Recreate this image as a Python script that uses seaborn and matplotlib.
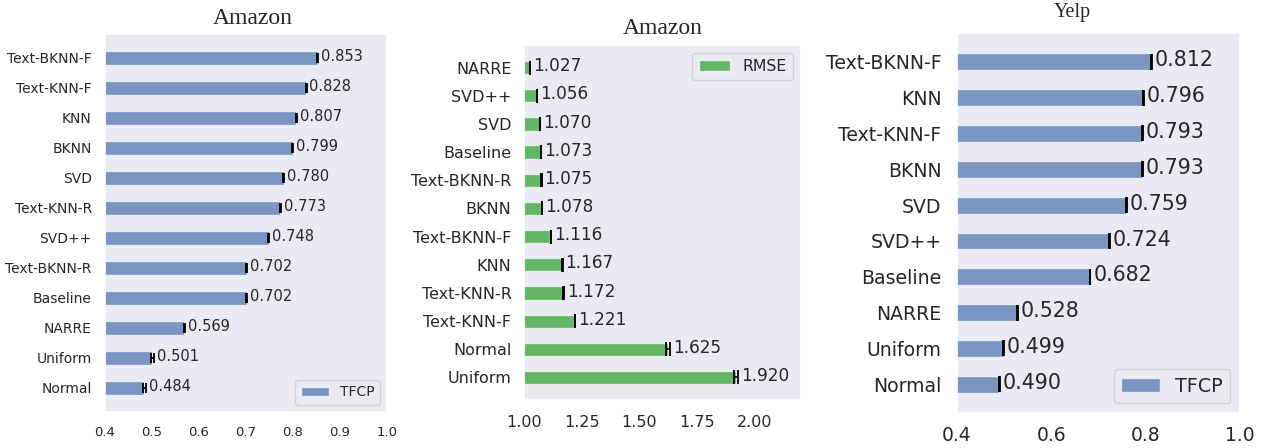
import matplotlib
matplotlib.use("Agg")
import matplotlib.pyplot as plt
import seaborn as sns

# Amazon TFCP
amz_tfcp_models = ["Text-BKNN-F", "Text-KNN-F", "KNN", "BKNN", "SVD", "Text-KNN-R",
                   "SVD++", "Text-BKNN-R", "Baseline", "NARRE", "Uniform", "Normal"]
amz_tfcp_vals = [0.853, 0.828, 0.807, 0.799, 0.780, 0.773, 0.748, 0.702, 0.702, 0.569, 0.501, 0.484]
amz_tfcp_err = [0.001, 0.001, 0.001, 0.001, 0.001, 0.001, 0.001, 0.001, 0.001, 0.001, 0.003, 0.003]

# Amazon RMSE
amz_rmse_models = ["NARRE", "SVD++", "SVD", "Baseline", "Text-BKNN-R", "BKNN", "Text-BKNN-F",
                   "KNN", "Text-KNN-R", "Text-KNN-F", "Normal", "Uniform"]
amz_rmse_vals = [1.027, 1.056, 1.070, 1.073, 1.075, 1.078, 1.116, 1.167, 1.172, 1.221, 1.625, 1.920]
amz_rmse_err = [0.001, 0.001, 0.001, 0.001, 0.001, 0.001, 0.001, 0.001, 0.001, 0.001, 0.008, 0.009]

# Yelp TFCP
yelp_models = ["Text-BKNN-F", "KNN", "Text-KNN-F", "BKNN", "SVD", "SVD++",
               "Baseline", "NARRE", "Uniform", "Normal"]
yelp_vals = [0.812, 0.796, 0.793, 0.793, 0.759, 0.724, 0.682, 0.528, 0.499, 0.490]
yelp_err = [0.001, 0.001, 0.001, 0.001, 0.001, 0.001, 0.001, 0.001, 0.001, 0.001]

sns.set_theme(style="dark")
plt.rcParams['font.family'] = ['DejaVu Sans']

fig = plt.figure(figsize=(12.65, 4.48), dpi=100)


def panel(rect, models, vals, errs, color, label, xlim, xticks, fs, pads, legend_loc, capsize):
    ax = fig.add_axes(rect)
    sns.barplot(x=vals, y=models, orient="h", color=color, saturation=1, alpha=0.7,
                width=0.47, errorbar=None, label=label, ax=ax)
    pos = list(range(len(models)))
    ax.errorbar(vals, pos, xerr=errs, fmt="none", ecolor="black", elinewidth=1.3,
                capsize=capsize, capthick=1.3)
    # value labels next to bars
    for i, (v, e) in enumerate(zip(vals, errs)):
        ax.annotate(f"{v:.3f}", (v + e, i), xytext=(2, 1), textcoords="offset points",
                    va="center", ha="left", fontsize=fs[1], color="#262626")
    ax.set_xlim(*xlim)
    ax.set_ylim(len(models) - 1 + 0.8, -0.8)
    ax.set_xticks(xticks)
    ax.set_xlabel("")
    ax.set_ylabel("")
    ax.tick_params(axis="y", labelsize=fs[0], pad=pads[0])
    ax.tick_params(axis="x", labelsize=fs[2], pad=pads[1])
    ax.legend(loc=legend_loc, fontsize=fs[3])
    return ax


panel([0.0830, 0.0804, 0.2229, 0.8438], amz_tfcp_models, amz_tfcp_vals, amz_tfcp_err,
      "#4C72B0", "TFCP", (0.4, 1.0), [0.4, 0.5, 0.6, 0.7, 0.8, 0.9, 1.0],
      (10, 10.5, 9.5, 10), (3.5, 4), "lower right", 3.6)
ax2 = panel([0.4142, 0.1071, 0.2190, 0.7924], amz_rmse_models, amz_rmse_vals, amz_rmse_err,
            "#2ca02c", "RMSE", (1.0, 2.2), [1.0, 1.25, 1.5, 1.75, 2.0],
            (11.5, 12.2, 11.5, 11.3), (3, 4.5), "upper right", 5)
panel([0.7565, 0.0781, 0.2237, 0.8480], yelp_models, yelp_vals, yelp_err,
      "#4C72B0", "TFCP", (0.4, 1.0), [0.4, 0.6, 0.8, 1.0],
      (13.6, 14.8, 13.5, 13.8), (5, 3.5), "lower right", 5.5)

ax2.xaxis.set_major_formatter(matplotlib.ticker.FormatStrFormatter("%.2f"))

# titles
fig.text(253 / 1265, 1 - 18 / 448, "Amazon", ha="center", va="center",
         family="Liberation Serif", fontsize=17)
fig.text(663 / 1265, 1 - 28 / 448, "Amazon", ha="center", va="center",
         family="Liberation Serif", fontsize=17)
fig.text(1072 / 1265, 1 - 12 / 448, "Yelp", ha="center", va="center",
         family="Liberation Serif", fontsize=14.5)

plt.savefig("out.png", dpi=100)
